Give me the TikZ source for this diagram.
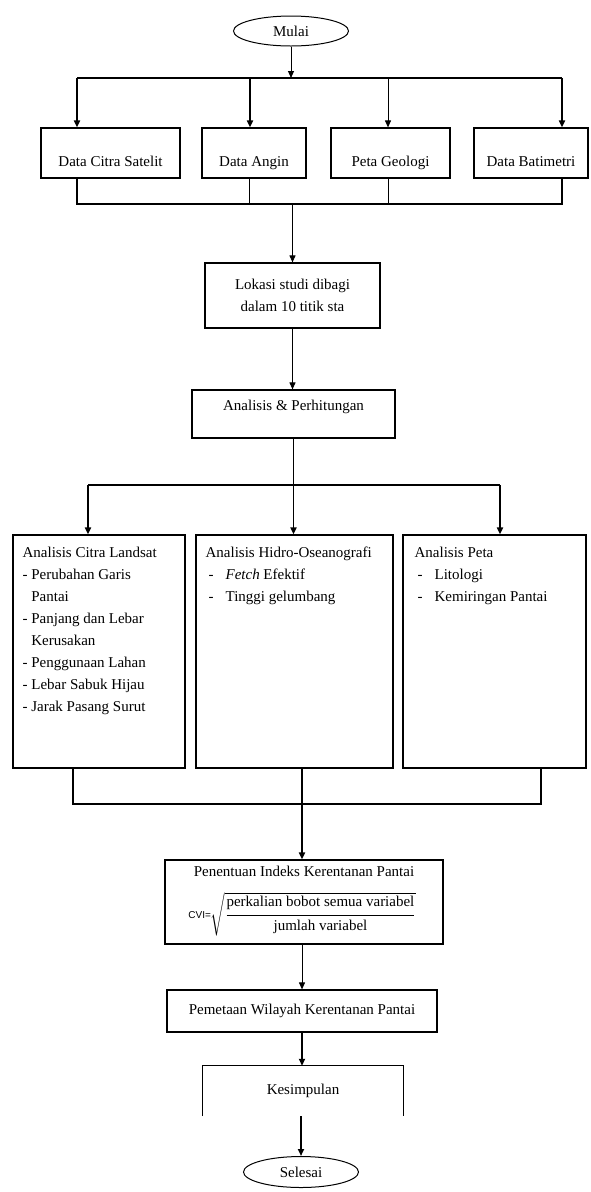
\documentclass[tikz,border=0pt]{standalone}
\usepackage{fontspec}
\setmainfont{Liberation Serif}
\newfontfamily\cvifont{Liberation Sans}
\usepackage{amsmath}
\usetikzlibrary{shapes, arrows.meta}

\newcommand{\dashitem}[1]{\hspace*{3pt}\makebox[17pt][l]{-}#1}

\begin{document}
\begin{tikzpicture}[x=1pt, y=-1pt, font=\fontsize{15}{22}\selectfont,
    >={Triangle[width=6pt,length=7pt]},
    box/.style={draw, line width=1.2pt},
    datatext/.style={text height=26pt, text depth=0pt},
    listtext/.style={anchor=north west, align=left, inner sep=0pt},
    heavy/.style={line width=1.8pt},
    light/.style={line width=1pt}]
    \useasboundingbox (0,0) rectangle (590,1192);

    \node[draw, ellipse, line width=1pt, minimum width=115, minimum height=30] (mulai) at (291, 31) {Mulai};

    % data masukan
    \node[box, datatext, minimum width=139, minimum height=50] (d1) at (110.5, 153) {Data Citra Satelit};
    \node[box, datatext, minimum width=104, minimum height=50] (d2) at (254, 153) {Data Angin};
    \node[box, datatext, minimum width=119, minimum height=50] (d3) at (390.5, 153) {Peta Geologi};
    \node[box, datatext, minimum width=114, minimum height=50] (d4) at (531, 153) {Data Batimetri};

    \coordinate (t0) at (291, 78);
    \coordinate (t1) at (77, 78);
    \coordinate (t2) at (250, 78);
    \coordinate (t3) at (388, 78);
    \coordinate (t4) at (562, 78);
    \draw[light, ->] (mulai) -- (t0);
    \draw[heavy] (t1) -- (t4);
    \draw[heavy, ->] (t1) -- (t1 |- d1.north);
    \draw[heavy, ->] (t2) -- (t2 |- d2.north);
    \draw[light, ->] (t3) -- (t3 |- d3.north);
    \draw[heavy, ->] (t4) -- (t4 |- d4.north);

    \node[box, align=center, minimum width=175, minimum height=65] (lokasi) at (292.5, 295.5) {Lokasi studi dibagi\\dalam 10 titik sta};
    \node[box, text height=0pt, text depth=8pt, minimum width=203, minimum height=48] (hitung) at (293.5, 414) {Analisis \& Perhitungan};

    \coordinate (u1) at (77, 204);
    \coordinate (u2) at (249, 204);
    \coordinate (u3) at (388, 204);
    \coordinate (u4) at (562, 204);
    \draw[heavy] (d1.south -| u1) -- (u1) -- (u4) -- (d4.south -| u4);
    \draw[light] (d2.south -| u2) -- (u2);
    \draw[light] (d3.south -| u3) -- (u3);
    \draw[light, ->] (lokasi.north |- u1) -- (lokasi.north);
    \draw[light, ->] (lokasi.south) -- (lokasi.south |- hitung.north);

    % tiga analisis
    \node[box, minimum width=172, minimum height=233] (a1) at (99, 651.5) {};
    \node[box, minimum width=197, minimum height=233] (a2) at (294.5, 651.5) {};
    \node[box, minimum width=183, minimum height=233] (a3) at (494.5, 651.5) {};
    \node[listtext] (la1) at ([shift={(10,12.5)}]a1.north west) {Analisis Citra Landsat\\- Perubahan Garis\\\hphantom{- }Pantai\\- Panjang dan Lebar\\\hphantom{- }Kerusakan\\- Penggunaan Lahan\\- Lebar Sabuk Hijau\\- Jarak Pasang Surut};
    \node[listtext] (la2) at ([shift={(10,12.5)}]a2.north west) {Analisis Hidro-Oseanografi\\\dashitem{\textit{Fetch} Efektif}\\\dashitem{Tinggi gelumbang}};
    \node[listtext] (la3) at ([shift={(12,12.5)}]a3.north west) {Analisis Peta\\\dashitem{Litologi}\\\dashitem{Kemiringan Pantai}};

    \coordinate (v1) at (88, 485);
    \coordinate (v3) at (500, 485);
    \draw[heavy] (hitung.south) -- (hitung.south |- v1);
    \draw[heavy] (v1) -- (v3);
    \draw[heavy, ->] (v1) -- (v1 |- a1.north);
    \draw[heavy, ->] (hitung.south |- v1) -- (hitung.south |- a2.north);
    \draw[heavy, ->] (v3) -- (v3 |- a3.north);

    % indeks kerentanan
    \node[box, minimum width=278, minimum height=84] (cvi) at (304, 902) {};
    \node[inner sep=0pt] (cvititle) at (304, 871) {Penentuan Indeks Kerentanan Pantai};
    \node[inner sep=0pt] (cviform) at (302, 914) {$\text{\cvifont\fontsize{10}{10}\selectfont CVI=}\sqrt{\dfrac{\text{\rule[-7pt]{0pt}{7pt}perkalian bobot semua variabel}}{\text{\rule{0pt}{13.5pt}jumlah variabel}}}$};

    \coordinate (w1) at (73, 804);
    \coordinate (w2) at (302, 804);
    \coordinate (w3) at (541, 804);
    \draw[heavy] (a1.south -| w1) -- (w1) -- (w3) -- (a3.south -| w3);
    \draw[heavy] (a2.south -| w2) -- (w2);
    \draw[heavy, ->] (w2) -- (w2 |- cvi.north);

    \node[box, minimum width=270, minimum height=42] (peta) at (302, 1011) {Pemetaan Wilayah Kerentanan Pantai};
    \node[minimum width=200, minimum height=50] (kes) at (303, 1091) {Kesimpulan};
    \draw[light] (kes.south west) -- (kes.north west) -- (kes.north east) -- (kes.south east);
    \node[draw, ellipse, line width=1pt, minimum width=115, minimum height=31] (selesai) at (301, 1172) {Selesai};

    \draw[light, ->] (cvi.south -| peta) -- (peta.north);
    \draw[heavy, ->] (peta.south) -- (peta.south |- kes.north);
    \draw[heavy, ->] (kes.south -| selesai) -- (selesai.north);
\end{tikzpicture}
\end{document}
